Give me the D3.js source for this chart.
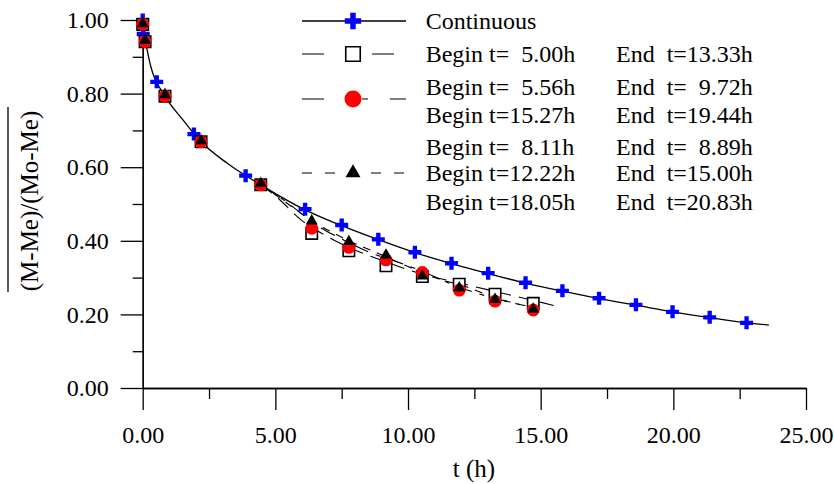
<!DOCTYPE html>
<html>
<head>
<meta charset="utf-8">
<script src="https://cdn.jsdelivr.net/npm/d3@7"></script>
<style>
  body { margin: 0; background: #fff; }
</style>
</head>
<body>
<div id="chart"></div>
<script>
// continuous drying, markers
var contT = [0, 0.02, 0.53, 1.93, 3.88, 6.12, 7.5, 8.88, 10.26, 11.64, 13.02, 14.43, 15.82, 17.2, 18.59, 19.97, 21.37, 22.76];
var contV = [1.0, 0.962, 0.832, 0.69, 0.577, 0.486, 0.443, 0.404, 0.369, 0.339, 0.312, 0.286, 0.264, 0.244, 0.226, 0.207, 0.192, 0.177];

// intermittent runs, markers (same times)
var interT = [0, 0.09, 0.84, 2.2, 4.45, 6.37, 7.77, 9.17, 10.54, 11.93, 13.28, 14.72];
var squareV = [0.988, 0.941, 0.793, 0.669, 0.552, 0.420, 0.373, 0.332, 0.303, 0.282, 0.255, 0.230];
var circleV = [0.988, 0.941, 0.793, 0.669, 0.552, 0.434, 0.382, 0.348, 0.314, 0.266, 0.236, 0.212];
var triV = [0.99, 0.945, 0.797, 0.672, 0.556, 0.454, 0.398, 0.361, 0.304, 0.272, 0.241, 0.214];

// model curves
var contCurveT = [0.08, 0.3, 0.84, 1.5, 2.2, 3.2, 4.45, 6.12, 7.5, 8.88, 10.26, 11.64, 13.02, 14.43, 15.82, 17.2, 18.59, 19.97, 21.37, 22.76, 23.6];
var contCurveV = [0.95, 0.875, 0.793, 0.73, 0.669, 0.61, 0.552, 0.484, 0.441, 0.403, 0.368, 0.338, 0.311, 0.285, 0.263, 0.243, 0.225, 0.207, 0.191, 0.177, 0.171];
var sqCurveT = [4.45, 5.0, 6.0, 7.0, 8.0, 9.2, 10.5, 11.9, 13.3, 14.6, 15.5];
var sqCurveV = [0.552, 0.522, 0.455, 0.41, 0.375, 0.342, 0.31, 0.286, 0.262, 0.24, 0.224];
var ciCurveT = [4.45, 5.56, 6.5, 7.5, 8.5, 9.7, 10.5, 12.0, 13.3, 14.5];
var ciCurveV = [0.552, 0.498, 0.445, 0.405, 0.37, 0.34, 0.318, 0.272, 0.243, 0.222];
var trCurveT = [4.45, 5.0, 6.37, 7.77, 8.9, 10.0, 11.0, 12.2, 13.3, 14.5];
var trCurveV = [0.552, 0.525, 0.455, 0.40, 0.365, 0.33, 0.30, 0.275, 0.245, 0.222];

var xTicks = [0, 5, 10, 15, 20, 25];
var yTicks = [0, 0.2, 0.4, 0.6, 0.8, 1.0];

var legendRows = [
  ["Begin t=  5.00h", "End  t=13.33h"],
  ["Begin t=  5.56h", "End  t=  9.72h"],
  ["Begin t=15.27h", "End  t=19.44h"],
  ["Begin t=  8.11h", "End  t=  8.89h"],
  ["Begin t=12.22h", "End  t=15.00h"],
  ["Begin t=18.05h", "End  t=20.83h"]
];

var serif = "'Liberation Serif'";

var svg = d3.select("#chart").append("svg")
  .attr("width", 834)
  .attr("height", 484);

var x = d3.scaleLinear().domain([0, 25]).range([142.7, 806]);
var y = d3.scaleLinear().domain([0, 1]).range([388, 20]);

// y axis
var yMinor = svg.append("g").attr("transform", "translate(142.7,0)")
  .call(d3.axisLeft(y).tickValues([0.1, 0.3, 0.5, 0.7, 0.9]).tickSize(10).tickSizeOuter(0).tickFormat(""));
var yAxis = svg.append("g").attr("transform", "translate(142.7,0)")
  .call(d3.axisLeft(y).tickValues(yTicks).tickSize(22).tickSizeOuter(0).tickPadding(12).tickFormat(d3.format(".2f")));

// x axis
var xMinor = svg.append("g").attr("transform", "translate(0,388)")
  .call(d3.axisBottom(x).tickValues([2.5, 7.5, 12.5, 17.5, 22.5]).tickSize(11).tickSizeOuter(0).tickFormat(""));
var xAxis = svg.append("g").attr("transform", "translate(0,388)")
  .call(d3.axisBottom(x).tickValues(xTicks).tickSize(22).tickSizeOuter(0).tickPadding(16).tickFormat(d3.format(".2f")));

svg.selectAll(".domain").attr("stroke", "#000").attr("stroke-width", 1.3);
svg.selectAll(".tick line").attr("stroke", "#000").attr("stroke-width", 1.3);
svg.selectAll(".tick text").attr("font-size", 24).attr("fill", "#000");

// axis titles
svg.append("text")
  .attr("x", 474).attr("y", 477)
  .attr("text-anchor", "middle")
  .attr("font-size", 25)
  .text("t (h)");

svg.append("text")
  .attr("transform", "translate(38,201) rotate(-90)")
  .attr("text-anchor", "middle")
  .attr("font-size", 25)
  .text("(M-Me)/(Mo-Me)");
svg.append("line")
  .attr("x1", 8).attr("x2", 8).attr("y1", 107).attr("y2", 292)
  .attr("stroke", "#000").attr("stroke-width", 1.3);

// curves
var line = d3.line()
  .x(function(d) { return x(d[0]); })
  .y(function(d) { return y(d[1]); })
  .curve(d3.curveMonotoneX);

function pairs(t, v) { return t.map(function(d, i) { return [d, v[i]]; }); }

svg.append("path").datum(pairs(contCurveT, contCurveV))
  .attr("d", line).attr("fill", "none").attr("stroke", "#000").attr("stroke-width", 1.3);
svg.append("path").datum(pairs(sqCurveT, sqCurveV))
  .attr("d", line).attr("fill", "none").attr("stroke", "#000").attr("stroke-width", 1.1)
  .attr("stroke-dasharray", "14,8");
svg.append("path").datum(pairs(ciCurveT, ciCurveV))
  .attr("d", line).attr("fill", "none").attr("stroke", "#000").attr("stroke-width", 1.1)
  .attr("stroke-dasharray", "16,8,5,8");
svg.append("path").datum(pairs(trCurveT, trCurveV))
  .attr("d", line).attr("fill", "none").attr("stroke", "#000").attr("stroke-width", 1.1)
  .attr("stroke-dasharray", "8,7");

// markers
var plus = d3.symbol().type(d3.symbolCross);
var sq = d3.symbol().type(d3.symbolSquare);
var circ = d3.symbol().type(d3.symbolCircle);
var tri = d3.symbol().type(d3.symbolTriangle);

svg.selectAll(".plus").data(pairs(contT, contV)).enter().append("path")
  .attr("class", "plus")
  .attr("transform", function(d) { return "translate(" + x(d[0]) + "," + y(d[1]) + ")"; })
  .attr("d", plus.size(94)).attr("fill", "#0000ff");

svg.selectAll(".sq").data(pairs(interT, squareV)).enter().append("path")
  .attr("class", "sq")
  .attr("transform", function(d) { return "translate(" + x(d[0]) + "," + y(d[1]) + ")"; })
  .attr("d", sq.size(130)).attr("fill", "#fff").attr("stroke", "#000").attr("stroke-width", 1.6);

svg.selectAll(".circ").data(pairs(interT, circleV)).enter().append("path")
  .attr("class", "circ")
  .attr("transform", function(d) { return "translate(" + x(d[0]) + "," + y(d[1]) + ")"; })
  .attr("d", circ.size(130)).attr("fill", "#ff0000");

svg.selectAll(".tri").data(pairs(interT, triV)).enter().append("path")
  .attr("class", "tri")
  .attr("transform", function(d) { return "translate(" + x(d[0]) + "," + y(d[1]) + ")"; })
  .attr("d", tri.size(62)).attr("fill", "#000");

// legend
var lg = svg.append("g");
lg.append("line").attr("x1", 302).attr("x2", 406).attr("y1", 21).attr("y2", 21)
  .attr("stroke", "#000").attr("stroke-width", 1.3);
lg.append("path").attr("transform", "translate(353,21)").attr("d", plus.size(150)).attr("fill", "#0000ff");

lg.append("line").attr("x1", 302).attr("x2", 406).attr("y1", 54).attr("y2", 54)
  .attr("stroke", "#000").attr("stroke-width", 1.1).attr("stroke-dasharray", "22,48");
lg.append("path").attr("transform", "translate(353,54)").attr("d", sq.size(210))
  .attr("fill", "#fff").attr("stroke", "#000").attr("stroke-width", 1.6);

lg.append("line").attr("x1", 302).attr("x2", 406).attr("y1", 99).attr("y2", 99)
  .attr("stroke", "#000").attr("stroke-width", 1.1).attr("stroke-dasharray", "22,38,6,22,16");
lg.append("path").attr("transform", "translate(353,99)").attr("d", circ.size(227)).attr("fill", "#ff0000");

lg.append("line").attr("x1", 302).attr("x2", 406).attr("y1", 173).attr("y2", 173)
  .attr("stroke", "#000").attr("stroke-width", 1.1).attr("stroke-dasharray", "10,13");
lg.append("path").attr("transform", "translate(353,173)").attr("d", tri.size(97)).attr("fill", "#000");

lg.append("text").attr("x", 425.7).attr("y", 21).attr("dy", "0.35em").attr("font-size", 24).text("Continuous");

var rowY = [54, 87, 115, 147, 173, 202];
legendRows.forEach(function(r, i) {
  lg.append("text").attr("x", 425.7).attr("y", rowY[i]).attr("dy", "0.35em")
    .attr("font-size", 24).style("white-space", "pre").text(r[0]);
  lg.append("text").attr("x", 616).attr("y", rowY[i]).attr("dy", "0.35em")
    .attr("font-size", 24).style("white-space", "pre").text(r[1]);
});

// serif everywhere, set inline on each text
svg.selectAll("text").style("font-family", serif).attr("fill", "#000");
</script>
</body>
</html>
